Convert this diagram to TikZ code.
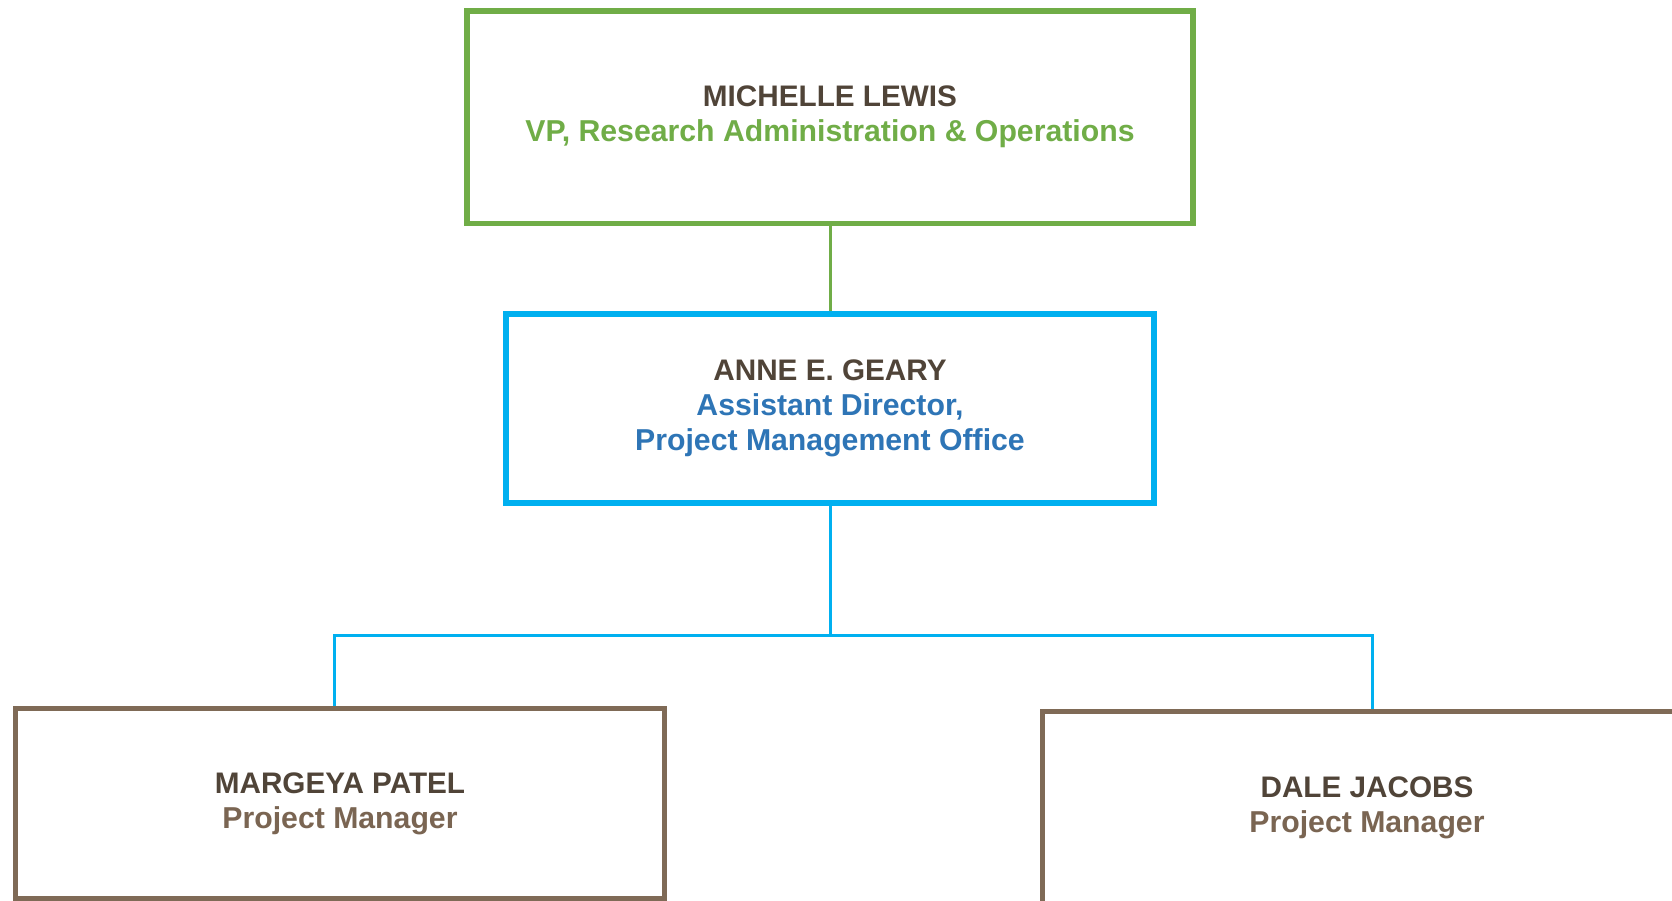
\documentclass[tikz,border=0pt]{standalone}
\usepackage{fontspec}
\setmainfont{Liberation Sans}
\usepackage{xcolor}
\usetikzlibrary{positioning}

\definecolor{vpgreen}{RGB}{112,173,71}
\definecolor{pmoblue}{RGB}{0,176,240}
\definecolor{pmotext}{RGB}{46,117,182}
\definecolor{pmbrown}{RGB}{127,106,86}
\definecolor{namebrown}{RGB}{80,68,56}
\definecolor{rolebrown}{RGB}{122,101,82}

\newcommand{\roletext}{\fontsize{17.2}{19.8}\selectfont}

\tikzset{
    orgbox/.style={rectangle, draw, line width=0.11cm, fill=white, align=center,
        font=\fontsize{16.9}{19.8}\selectfont\bfseries, text=namebrown},
    orglink/.style={line width=0.06cm},
}

\begin{document}
\begin{tikzpicture}
    \def\cx{16.6}
    \clip (0,0) rectangle (33.44,-18);
    \fill[white] (0,0) rectangle (33.44,-18);

    \node(vp) [orgbox, draw=vpgreen, minimum width=14.52cm, minimum height=4.25cm] at (\cx,-2.34)
        {MICHELLE LEWIS\\\textcolor{vpgreen}{\roletext VP, Research Administration \& Operations}};
    \node(pmo) [orgbox, draw=pmoblue, minimum width=12.96cm, minimum height=3.78cm] at (\cx,-8.17)
        {ANNE E. GEARY\\\textcolor{pmotext}{\roletext Assistant Director,}\\\textcolor{pmotext}{\roletext Project Management Office}};
    \node(pm1) [orgbox, draw=pmbrown, minimum width=12.98cm, minimum height=3.81cm] at (6.8,-16.075)
        {MARGEYA PATEL\\\textcolor{rolebrown}{\roletext Project Manager}};
    \node(pm2) [orgbox, draw=pmbrown, minimum width=12.98cm, minimum height=3.84cm] at (27.34,-16.15)
        {DALE JACOBS\\\textcolor{rolebrown}{\roletext Project Manager}};

    \coordinate(bus) at (\cx,-12.71);

    \draw[orglink, vpgreen] (vp) -- (pmo);
    \draw[orglink, pmoblue] (pmo) -- (bus);
    \draw[orglink, pmoblue] ([xshift=-0.12cm]pm1.north) |- (bus) -| ([xshift=0.1cm]pm2.north);

\end{tikzpicture}
\end{document}
